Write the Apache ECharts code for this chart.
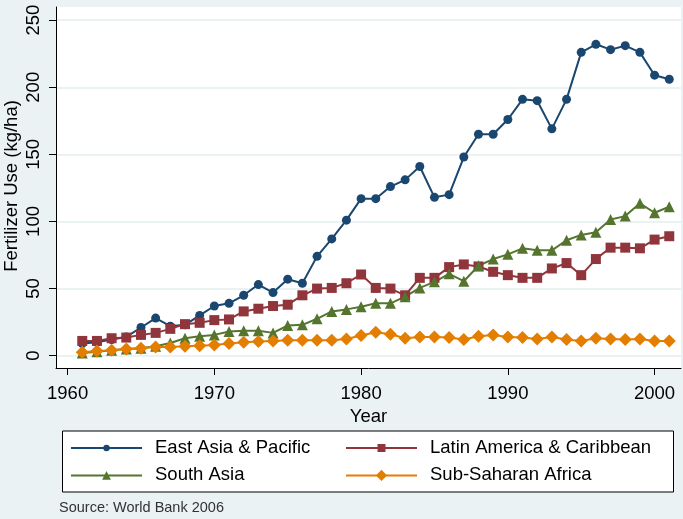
<!DOCTYPE html>
<html>
<head>
<meta charset="utf-8">
<script src="https://cdn.jsdelivr.net/npm/echarts@6/dist/echarts.min.js"></script>
<style>
html,body{margin:0;padding:0;background:#eaf2f3;}
#c{width:683px;height:519px;}
</style>
</head>
<body>
<div id="c"></div>
<script>
const years = [1961,1962,1963,1964,1965,1966,1967,1968,1969,1970,
  1971,1972,1973,1974,1975,1976,1977,1978,1979,1980,
  1981,1982,1983,1984,1985,1986,1987,1988,1989,1990,
  1991,1992,1993,1994,1995,1996,1997,1998,1999,2000,2001];
const eastAsia = [9,10,12,14,21,28,22,23,30,37,
  39,45,53,47,57,54,74,87,101,117,
  117,126,131,141,118,120,148,165,165,176,
  191,190,169,191,226,232,228,231,226,209,206];
const latinAmerica = [11,11,13,13.5,15.5,17,20,23.5,24.5,26.5,
  27,33,35,37,38,45,50,50.5,54,60.5,
  50.5,50,45,58,58,66,68,66.5,62.5,60,
  58,58,65,69,60,72,80.5,80.5,80,86.5,89];
const southAsia = [2,3,4,5,5.5,7,9.5,13,14.5,15.5,
  18,18.5,18.5,17,22.5,23,27.5,33,34.5,36.5,
  39,39,44,50.5,55,61,55.5,67,72,75.5,
  80,78.5,78.5,86,90,92,101.5,104,113.5,106.5,111];
const subSaharan = [2.5,3.5,4,5,5.5,6.5,6.5,7,7.5,8,
  9,10,10.5,11,11.5,11.5,11.5,11.5,12.5,15,
  17.5,16,13,14,14,13.5,12,14.5,15.5,14,
  13.5,12.5,14,12,11,13,12.5,12,12.5,11,11];
const xTicks = [1960,1970,1980,1990,2000];
const yTicks = [0,50,100,150,200,250];
const seriesNames = ['East Asia & Pacific','Latin America & Caribbean','South Asia','Sub-Saharan Africa'];
const yTitle = 'Fertilizer Use (kg/ha)';

const FONT = '"Liberation Sans", Arial, Helvetica, sans-serif';
const pairs = arr => years.map((y,i)=>[y,arr[i]]);

function mkSeries(name, arr, color, symbol, size){
  return {
    name: name, type:'line', data: pairs(arr),
    symbol: symbol, symbolSize: size,
    lineStyle:{color:color,width:2},
    itemStyle:{color:color, borderWidth:0},
    emphasis:{disabled:true},
    animation:false
  };
}
function mkLegend(name, left, top, h){
  return {data:[name], orient:'vertical', left:left, top:top, padding:0,
    itemWidth:71, itemHeight:h, z:10, selectedMode:false,
    itemStyle:{borderWidth:0},
    textStyle:{fontSize:18.5, color:'#000', lineHeight:20, padding:[0,0,0,8], fontFamily:FONT}};
}

const chart = echarts.init(document.getElementById('c'), null, {renderer:'canvas'});
chart.setOption({
  backgroundColor:'#eaf2f3',
  animation:false,
  textStyle:{fontFamily:FONT},
  grid:{left:56, right:2, top:7, bottom:151, show:true, backgroundColor:'#ffffff', borderWidth:0,
        containLabel:false, outerBoundsMode:'none'},
  xAxis:{
    type:'value', min:1959.21, max:2001.8,
    name:'Year', nameLocation:'middle', nameGap:30,
    nameTextStyle:{fontSize:18.5, color:'#000', fontFamily:FONT},
    axisLine:{show:true, onZero:false, lineStyle:{color:'#000', width:1}},
    axisTick:{show:true, customValues:xTicks, length:7, lineStyle:{color:'#000'}},
    axisLabel:{customValues:xTicks, formatter:v=>String(v), fontSize:18.5, color:'#000', margin:16, fontFamily:FONT},
    splitLine:{show:false}
  },
  yAxis:{
    type:'value', min:-9.17, max:259.8,
    axisLine:{show:true, onZero:false, lineStyle:{color:'#000', width:1}},
    axisTick:{show:true, customValues:yTicks, length:7, lineStyle:{color:'#000'}},
    axisLabel:{customValues:yTicks, formatter:v=>String(v), fontSize:18.5, color:'#000', margin:13, rotate:90, fontFamily:FONT},
    splitLine:{show:true, lineStyle:{color:'#e4eef0', width:1.5}}
  },
  legend:[
    mkLegend(seriesNames[0], 70, 438, 8),
    mkLegend(seriesNames[2], 70, 465.4, 11),
    mkLegend(seriesNames[1], 345, 438, 10),
    mkLegend(seriesNames[3], 345, 465.4, 14)
  ],
  graphic:[
    {type:'rect', z:1, shape:{x:62.5, y:431, width:611, height:61}, style:{fill:'#fff', stroke:'#000', lineWidth:1}},
    {type:'text', z:1, style:{x:59, y:508, text:'Source: World Bank 2006', fontSize:14.5, fill:'#333', fontFamily:FONT, textVerticalAlign:'middle'}},
    {type:'text', z:1, x:12, y:186, rotation:Math.PI/2, style:{x:0, y:0, text:yTitle, fontSize:18.5, fill:'#000', fontFamily:FONT, textAlign:'center', textVerticalAlign:'middle'}}
  ],
  series:[
    mkSeries(seriesNames[0], eastAsia, '#1a476f', 'circle', 9),
    mkSeries(seriesNames[1], latinAmerica, '#90353b', 'rect', 10),
    mkSeries(seriesNames[2], southAsia, '#55752f', 'triangle', 11),
    mkSeries(seriesNames[3], subSaharan, '#e37e00', 'diamond', 13)
  ]
});
</script>
</body>
</html>
